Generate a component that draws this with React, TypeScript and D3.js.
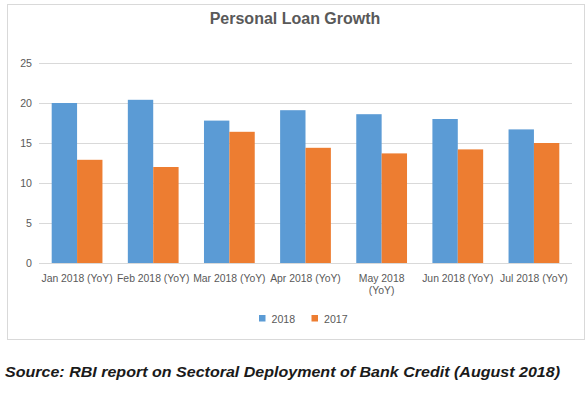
import React, { useEffect, useRef } from 'react';
import * as d3 from 'd3';

// "\n" marks where the original axis wrapped the label
const months = [
  'Jan 2018 (YoY)',
  'Feb 2018 (YoY)',
  'Mar 2018 (YoY)',
  'Apr 2018 (YoY)',
  'May 2018\n(YoY)',
  'Jun 2018 (YoY)',
  'Jul 2018 (YoY)'
];
const seriesNames = ['2018', '2017'];
const growth2018 = [20.0, 20.4, 17.8, 19.1, 18.6, 18.0, 16.7];
const growth2017 = [12.9, 12.0, 16.4, 14.4, 13.7, 14.2, 15.0];
const yTicks = [0, 5, 10, 15, 20, 25];

const colors: Record<string, string> = { '2018': '#5B9BD5', '2017': '#ED7D31' };
const FONT = '"Liberation Sans", Arial, sans-serif';

export default function App() {
  const ref = useRef<SVGSVGElement>(null);

  useEffect(() => {
    const svg = d3.select(ref.current);
    svg.selectAll('*').remove();

    const width = 587, height = 395;
    const margin = { top: 63, right: 15, bottom: 132, left: 39 };

    const rows = months.map((m, i) => ({ month: m, '2018': growth2018[i], '2017': growth2017[i] }));

    // chart frame
    svg.append('rect')
      .attr('x', 7.5).attr('y', 4.5)
      .attr('width', 577).attr('height', 335)
      .attr('fill', '#fff')
      .attr('stroke', '#d9d9d9');

    svg.append('text')
      .attr('x', 295).attr('y', 23.5)
      .attr('text-anchor', 'middle')
      .attr('font-family', FONT)
      .attr('font-weight', 'bold')
      .attr('font-size', 16)
      .attr('fill', '#595959')
      .text('Personal Loan Growth');

    const x0 = d3.scaleBand<string>()
      .domain(months)
      .range([margin.left, width - margin.right])
      .paddingInner(1 / 3)
      .paddingOuter(1 / 6);

    const x1 = d3.scaleBand<string>()
      .domain(seriesNames)
      .range([0, x0.bandwidth()]);

    const y = d3.scaleLinear()
      .domain([0, 25])
      .range([height - margin.bottom, margin.top]);

    // gridlines
    svg.append('g')
      .selectAll('line')
      .data(yTicks)
      .enter().append('line')
      .attr('x1', margin.left).attr('x2', width - margin.right)
      .attr('y1', d => Math.round(y(d)) + 0.5)
      .attr('y2', d => Math.round(y(d)) + 0.5)
      .attr('stroke', '#d9d9d9');

    svg.append('g')
      .selectAll('text')
      .data(yTicks)
      .enter().append('text')
      .attr('x', 32)
      .attr('y', d => y(d) + 3.8)
      .attr('text-anchor', 'end')
      .attr('font-family', FONT)
      .attr('font-size', 10.6)
      .attr('fill', '#595959')
      .text(d => d);

    // bars
    svg.append('g')
      .selectAll('g')
      .data(rows)
      .enter().append('g')
      .attr('transform', d => 'translate(' + x0(d.month) + ',0)')
      .selectAll('rect')
      .data(d => seriesNames.map(k => ({ key: k, value: (d as any)[k] as number })))
      .enter().append('rect')
      .attr('x', d => x1(d.key)!)
      .attr('width', x1.bandwidth())
      .attr('y', d => y(d.value))
      .attr('height', d => y(0) - y(d.value))
      .attr('fill', d => colors[d.key]);

    // month labels
    svg.append('g')
      .selectAll('text')
      .data(months)
      .enter().append('text')
      .attr('text-anchor', 'middle')
      .attr('font-family', FONT)
      .attr('font-size', 10.4)
      .attr('fill', '#595959')
      .selectAll('tspan')
      .data(d => d.split('\n').map((line, i) => ({ line, i, cx: x0(d)! + x0.bandwidth() / 2 })))
      .enter().append('tspan')
      .attr('x', d => d.cx)
      .attr('y', d => 281.5 + d.i * 12.5)
      .text(d => d.line);

    // legend
    const legendX = [259, 311.5];
    const legend = svg.append('g')
      .selectAll('g')
      .data(seriesNames)
      .enter().append('g')
      .attr('transform', (d, i) => 'translate(' + legendX[i] + ',315)');
    legend.append('rect')
      .attr('width', 6.5).attr('height', 6.5)
      .attr('fill', d => colors[d]);
    legend.append('text')
      .attr('x', 12.5).attr('y', 7.8)
      .attr('font-family', FONT)
      .attr('font-size', 10.6)
      .attr('fill', '#595959')
      .text(d => d);

    svg.append('text')
      .attr('x', 5).attr('y', 377)
      .attr('font-family', FONT)
      .attr('font-weight', 'bold')
      .attr('font-style', 'italic')
      .attr('font-size', 14.5)
      .attr('fill', '#1a1a1a')
      .attr('textLength', 555)
      .attr('lengthAdjust', 'spacingAndGlyphs')
      .text('Source: RBI report on Sectoral Deployment of Bank Credit (August 2018)');
  }, []);

  return (
    <svg
      ref={ref}
      width={587}
      height={395}
      style={{ position: 'absolute', left: 0, top: 0, background: '#fff' }}
    />
  );
}
